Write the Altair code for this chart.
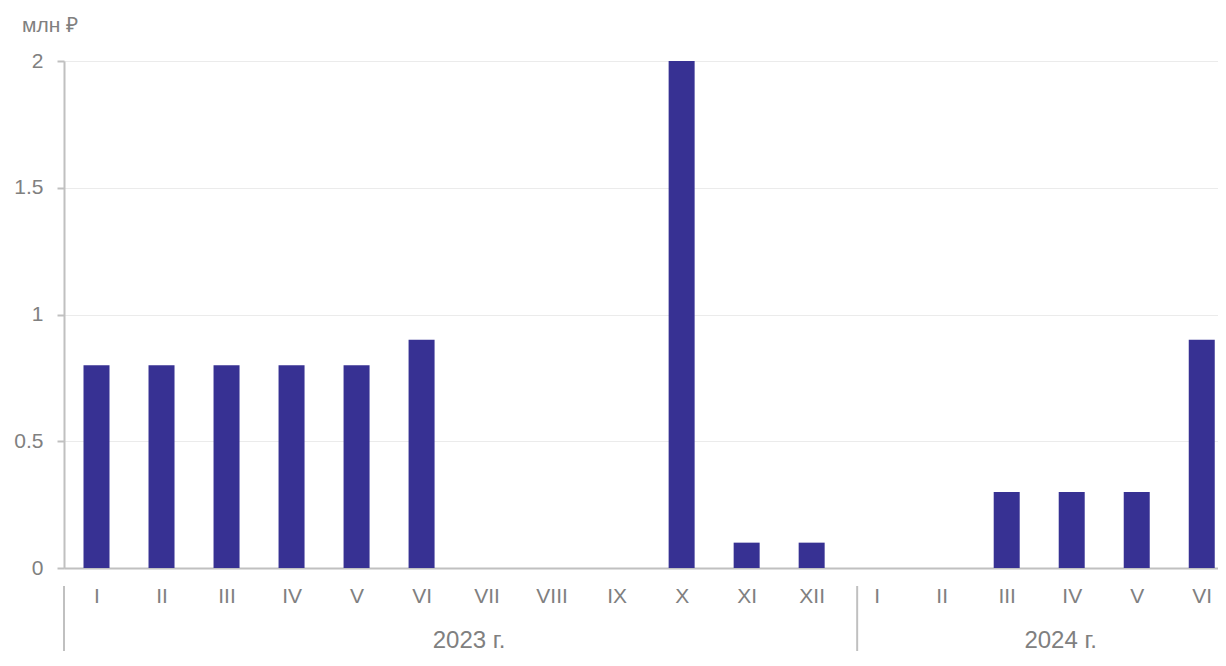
import altair as alt
import pandas as pd

months = ["I", "II", "III", "IV", "V", "VI", "VII", "VIII", "IX", "X", "XI", "XII",
          "I", "II", "III", "IV", "V", "VI"]
values = [0.8, 0.8, 0.8, 0.8, 0.8, 0.9, 0, 0, 0, 2.0, 0.1, 0.1,
          0, 0, 0.3, 0.3, 0.3, 0.9]
years = ["2023 г.", "2024 г."]
year_label_pos = [5.73, 14.83]
separators = [-0.5, 11.7]
y_ticks = [0, 0.5, 1, 1.5, 2]
unit = "млн ₽"

FONT = "Liberation Sans"
GRAY = "#808080"
LINE = "#c0c0c0"
W, H = 1154, 507

df = pd.DataFrame({"idx": list(range(len(months))), "month": months, "value": values})
label_arr = "[" + ",".join("'" + m + "'" for m in months) + "]"

xscale = alt.Scale(domain=[-0.5, 17.25], nice=False, zero=False, padding=0)
yscale = alt.Scale(domain=[0, 2], nice=False)

bars = alt.Chart(df).mark_bar(size=26, color="#373193").encode(
    x=alt.X("idx:Q", scale=xscale,
            axis=alt.Axis(values=list(range(len(months))), labelExpr=label_arr + "[datum.value]",
                          title=None, grid=False, ticks=False, domainColor=LINE, domainWidth=2,
                          labelColor=GRAY, labelFont=FONT, labelFontSize=21, labelPadding=17,
                          labelFlush=False, labelOverlap=False)),
    y=alt.Y("value:Q", scale=yscale,
            axis=alt.Axis(values=y_ticks, format="~g", title=None, grid=True, gridColor="#ebebeb",
                          gridWidth=1, domainColor=LINE, domainWidth=2, tickColor=LINE,
                          tickSize=7, tickWidth=2, labelColor=GRAY, labelFont=FONT,
                          labelFontSize=21, labelPadding=14)),
)

sep_df = pd.DataFrame({"x": separators})
seps = alt.Chart(sep_df).mark_rule(color=LINE, strokeWidth=2).encode(
    x=alt.X("x:Q", scale=xscale),
    y=alt.value(H + 18),
    y2=alt.value(H + 83),
)

yr_df = pd.DataFrame({"x": year_label_pos, "label": years})
yr = alt.Chart(yr_df).mark_text(font=FONT, fontSize=24, color=GRAY, align="center",
                                baseline="alphabetic").encode(
    x=alt.X("x:Q", scale=xscale),
    y=alt.value(H + 80),
    text="label:N",
)

unit_df = pd.DataFrame({"t": [unit]})
unit_txt = alt.Chart(unit_df).mark_text(font=FONT, fontSize=21, color=GRAY, align="left",
                                        baseline="alphabetic").encode(
    x=alt.value(-42), y=alt.value(-29), text="t:N")

chart = alt.layer(bars, seps, yr, unit_txt).properties(
    width=W, height=H,
    autosize=alt.AutoSizeParams(type="none"),
    padding={"left": 56, "top": 53, "right": 0, "bottom": 87},
).configure_view(stroke=None).configure(background="white")

chart.save("out.html", embed_options={"renderer": "svg", "actions": False})
